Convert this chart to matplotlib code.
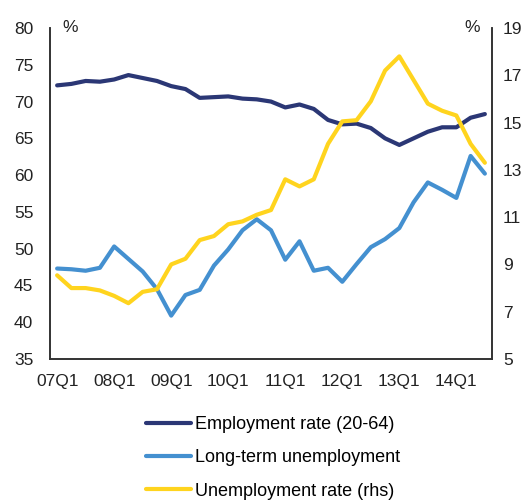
import matplotlib
matplotlib.use("Agg")
import matplotlib.pyplot as plt
import numpy as np

plt.rcParams['font.family'] = ['Liberation Sans', 'DejaVu Sans']

quarters = [f"{y:02d}Q{q}" for y in range(7, 15) for q in range(1, 5)][:31]
tick_labels = ["07Q1", "08Q1", "09Q1", "10Q1", "11Q1", "12Q1", "13Q1", "14Q1"]

employment = [72.2, 72.4, 72.8, 72.7, 73.0, 73.6, 73.2, 72.8, 72.1, 71.7,
              70.5, 70.6, 70.7, 70.4, 70.3, 70.0, 69.2, 69.6, 69.0, 67.5,
              66.9, 67.0, 66.4, 65.0, 64.1, 65.0, 65.9, 66.5, 66.5, 67.8, 68.3]
long_term = [47.3, 47.2, 47.0, 47.4, 50.3, 48.6, 46.9, 44.5, 40.9, 43.7,
             44.4, 47.7, 49.9, 52.5, 54.0, 52.5, 48.5, 51.0, 47.0, 47.4,
             45.5, 47.9, 50.2, 51.3, 52.8, 56.3, 59.0, 58.0, 56.9, 62.6, 60.2]
unemployment = [8.54, 8.0, 8.0, 7.9, 7.67, 7.36, 7.84, 7.95, 9.0, 9.24,
                10.03, 10.2, 10.7, 10.82, 11.1, 11.3, 12.6, 12.3, 12.6, 14.1,
                15.05, 15.1, 15.9, 17.2, 17.8, 16.8, 15.8, 15.5, 15.3, 14.1, 13.3]

labels = ["Employment rate (20-64)", "Long-term unemployment", "Unemployment rate (rhs)"]
colors = ["#2B3775", "#4490D0", "#FFD41E"]

W, H = 523, 500
fig = plt.figure(figsize=(W / 100, H / 100), dpi=100)
ax = fig.add_axes([50 / W, 141 / H, 442 / W, 331 / H])
ax2 = ax.twinx()

x = np.arange(len(quarters))
lw = 3.0
l1, = ax.plot(x, employment, color=colors[0], lw=lw, solid_capstyle='round', label=labels[0])
l2, = ax.plot(x, long_term, color=colors[1], lw=lw, solid_capstyle='round', label=labels[1])
l3, = ax2.plot(x, unemployment, color=colors[2], lw=lw, solid_capstyle='round', label=labels[2])

ax.set_xlim(-0.5, 30.5)
ax.set_ylim(35, 80)
ax.set_yticks(np.arange(35, 81, 5))
ax2.set_ylim(5, 19)
ax2.set_yticks(np.arange(5, 20, 2))
ax.set_xticks([quarters.index(t) for t in tick_labels])
ax.set_xticklabels(tick_labels)

fs = 12.5
for a in (ax, ax2):
    a.spines['top'].set_visible(False)
    for s in ('left', 'right', 'bottom'):
        a.spines[s].set_color('#333333')
        a.spines[s].set_linewidth(1.2)
    a.tick_params(length=0, labelsize=fs, colors='#222222')
ax.tick_params(axis='y', pad=12)
ax.tick_params(axis='x', pad=11)
ax2.tick_params(axis='y', pad=8)

ax.text(0.028, 1.0, "%", transform=ax.transAxes, fontsize=fs, color='#222222', ha='left', va='center')
ax.text(0.972, 1.0, "%", transform=ax.transAxes, fontsize=fs, color='#222222', ha='right', va='center')

fig.legend(handles=[l1, l2, l3], loc='upper left', bbox_to_anchor=(146 / W, 1 - 416 / H),
           frameon=False, fontsize=13, handlelength=2.5, handletextpad=0.2,
           labelspacing=0.9, borderaxespad=0, borderpad=0)

fig.savefig("out.png", dpi=100)
